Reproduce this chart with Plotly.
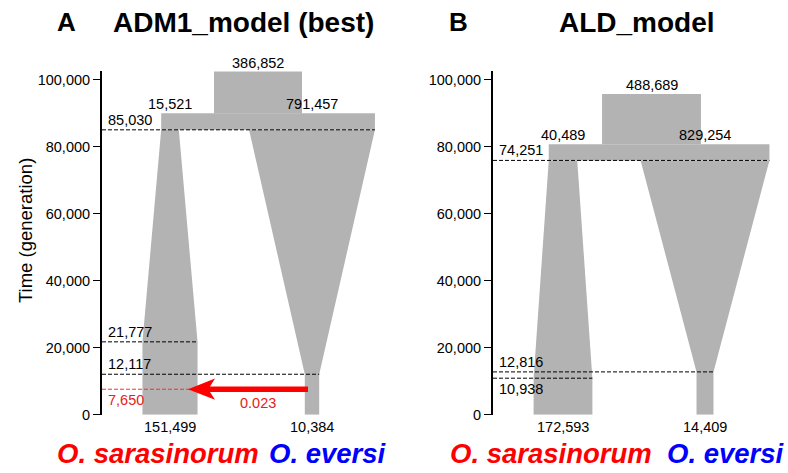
import numpy as np
import plotly.graph_objects as go

# ---------------- data ----------------
panel_letters = ["A", "B"]
panel_titles = ["ADM1_model (best)", "ALD_model"]
species_left = "O. sarasinorum"
species_right = "O. eversi"

ne_ancestral = [386852, 488689]        # ancestral population size
ne_left_split = [15521, 40489]         # O. sarasinorum size at split
ne_right_split = [791457, 829254]      # O. eversi size at split
ne_left_present = [151499, 172593]     # O. sarasinorum present size
ne_right_present = [10384, 14409]      # O. eversi present size

t_split = [85030, 75900]               # split time as drawn
t_split_text = ["85,030", "74,251"]    # split time as printed
t_left_change = [21777, 10938]         # end of size change, O. sarasinorum
t_right_change = [12117, 12816]        # end of size change, O. eversi
t_bar_top = [89940, 80730]             # top of the joining bar (schematic)
t_anc_top = [102400, 95700]            # top of the ancestral box (schematic)
admix_time = [7650, None]
admix_rate = [0.023, None]

y_ticks = [0, 20000, 40000, 60000, 80000, 100000]

# ---------------- layout constants ----------------
W, H = 788, 473
GRAY = "#b3b3b3"
RED = "#ff0000"
BLUE = "#0000ff"
FONT = "Liberation Sans, Arial, Helvetica, sans-serif"
K = 0.1415                      # px of width per sqrt(Ne)
axis_px = [102, 493]            # x pixel of y axis line per panel
axis_w = [288, 295]             # width of each panel in px
centers = [[68, 156, 210], [70, 158.5, 212]]   # left, ancestor, right centers (px from axis)
Y0_PX, YTOP_PX = 422, 72.2
PX_PER_GEN = 3.41 / 1000
Y_MAX = (Y0_PX - YTOP_PX) / PX_PER_GEN


def wid(n):
    return K * np.sqrt(n)


fig = go.Figure()
annotations = []

for p in range(2):
    xa = "x" if p == 0 else "x2"
    ya = "y" if p == 0 else "y2"
    cl, ca, cr = centers[p]
    wls, wlp = wid(ne_left_split[p]), wid(ne_left_present[p])
    wrs, wrp = wid(ne_right_split[p]), wid(ne_right_present[p])
    wa = wid(ne_ancestral[p])
    ts = t_split[p]

    def poly(xs, ys):
        fig.add_trace(go.Scatter(x=xs, y=ys, xaxis=xa, yaxis=ya, mode="lines",
                                 fill="toself", fillcolor=GRAY,
                                 line=dict(width=0, color=GRAY),
                                 hoverinfo="skip", showlegend=False))

    # ancestral box
    poly([ca - wa / 2, ca + wa / 2, ca + wa / 2, ca - wa / 2],
         [t_bar_top[p] - 10, t_bar_top[p] - 10, t_anc_top[p], t_anc_top[p]])
    # joining bar
    poly([cl - wls / 2, cr + wrs / 2, cr + wrs / 2, cl - wls / 2],
         [ts, ts, t_bar_top[p], t_bar_top[p]])
    # left population
    tl = t_left_change[p]
    poly([cl - wlp / 2, cl + wlp / 2, cl + wlp / 2, cl + wls / 2, cl - wls / 2, cl - wlp / 2],
         [0, 0, tl, ts, ts, tl])
    # right population
    tr = t_right_change[p]
    poly([cr - wrp / 2, cr + wrp / 2, cr + wrp / 2, cr + wrs / 2, cr - wrs / 2, cr - wrp / 2],
         [0, 0, tr, ts, ts, tr])

    def dline(x1, y, color="black"):
        fig.add_trace(go.Scatter(x=[0, x1], y=[y, y], xaxis=xa, yaxis=ya, mode="lines",
                                 line=dict(color=color, width=1, dash="4px,2px"),
                                 hoverinfo="skip", showlegend=False))

    def txt(x, y, s, xanchor="center", yanchor="bottom", yshift=0, color="black", size=14.5):
        annotations.append(dict(x=x, y=y, xref=xa, yref=ya, text=s, showarrow=False,
                                xanchor=xanchor, yanchor=yanchor, yshift=yshift,
                                font=dict(family=FONT, size=size, color=color)))

    # dashed time lines
    dline(cr + wrs / 2, ts)
    txt(4, ts, t_split_text[p], xanchor="left", yshift=0)
    dline(cl + wlp / 2, tl)
    dline(cr + wrp / 2, tr)
    if tl > tr:
        txt(4, tl, f"{tl:,}", xanchor="left")
        txt(4, tr, f"{tr:,}", xanchor="left")
    else:
        txt(4, tr, f"{tr:,}", xanchor="left")
        txt(4, tl, f"{tl:,}", xanchor="left", yanchor="top", yshift=-1)

    # size labels
    txt(cl, t_bar_top[p], f"{ne_left_split[p]:,}", yshift=-1)
    txt(cr, t_bar_top[p], f"{ne_right_split[p]:,}", yshift=-1)
    txt(ca, t_anc_top[p], f"{ne_ancestral[p]:,}", yshift=-1)
    txt(cl, 0, f"{ne_left_present[p]:,}", yanchor="top", yshift=-2)
    txt(cr, 0, f"{ne_right_present[p]:,}", yanchor="top", yshift=-2)

    # admixture arrow
    if admix_time[p] is not None:
        ty = admix_time[p]
        tip = cl + 18
        start = cr - 4
        g = 1 / PX_PER_GEN
        hx = [tip, tip + 27, tip + 22, start, start, tip + 22, tip + 27, tip]
        hy = [ty, ty + 10.8 * g, ty + 2.85 * g, ty + 2.85 * g, ty - 2.85 * g,
              ty - 2.85 * g, ty - 10.8 * g, ty]
        dline(tip + 2, ty, color="#ee3333")
        fig.add_trace(go.Scatter(x=hx, y=hy, xaxis=xa, yaxis=ya, mode="lines",
                                 fill="toself", fillcolor=RED, line=dict(width=0, color=RED),
                                 hoverinfo="skip", showlegend=False))
        txt(4, ty, f"{ty:,}", xanchor="left", yanchor="top", yshift=-1, color="#e82020")
        txt((tip + start) / 2 + 10, ty, f"{admix_rate[p]}", yanchor="top", yshift=-4,
            color="#e82020")


def ptxt(xpx, ypx, s, size, color="black", angle=0):
    annotations.append(dict(x=xpx / W, y=1 - ypx / H, xref="paper", yref="paper", text=s,
                            showarrow=False, xanchor="center", yanchor="middle",
                            textangle=angle, font=dict(family=FONT, size=size, color=color)))


ptxt(66.5, 22.5, f"<b>{panel_letters[0]}</b>", 26)
ptxt(243.3, 22.5, f"<b>{panel_titles[0]}</b>", 28)
ptxt(458, 22.5, f"<b>{panel_letters[1]}</b>", 26)
ptxt(636.7, 22.5, f"<b>{panel_titles[1]}</b>", 28)
ptxt(157.5, 461, f"<b><i>{species_left}</i></b>", 27.5, RED)
ptxt(328, 461, f"<b><i>{species_right}</i></b>", 27.5, BLUE)
ptxt(551.3, 461, f"<b><i>{species_left}</i></b>", 27.5, RED)
ptxt(726, 461, f"<b><i>{species_right}</i></b>", 27.5, BLUE)
ptxt(25, 235, "Time (generation)", 18.5, angle=-90)

ydom = [(H - Y0_PX) / H, (H - YTOP_PX) / H]
yax = dict(range=[0, Y_MAX], domain=ydom, showline=True, linewidth=2, linecolor="black",
           ticks="outside", ticklen=7, tickwidth=1.3, tickcolor="black",
           tickvals=y_ticks, ticktext=[f"{v:,}" for v in y_ticks],
           tickfont=dict(family=FONT, size=14.5, color="black"),
           showgrid=False, zeroline=False, fixedrange=True)

fig.update_layout(
    width=W, height=H, margin=dict(l=0, r=0, t=0, b=0),
    paper_bgcolor="white", plot_bgcolor="white",
    xaxis=dict(domain=[axis_px[0] / W, (axis_px[0] + axis_w[0]) / W], range=[0, axis_w[0]],
               visible=False, fixedrange=True),
    xaxis2=dict(domain=[axis_px[1] / W, min(1, (axis_px[1] + axis_w[1]) / W)],
                range=[0, axis_w[1]], visible=False, fixedrange=True),
    yaxis=dict(anchor="x", **yax),
    yaxis2=dict(anchor="x2", **yax),
    annotations=annotations,
    showlegend=False,
)

css_fix = (
    "var s=document.createElement('style');"
    "s.innerHTML='html,body{margin:0;padding:0;overflow:hidden;width:788px;height:473px;}"
    " body>div{width:788px;height:473px;overflow:hidden;line-height:0;font-size:0;}"
    " .plotly-graph-div{overflow:hidden;}';"
    "document.head.appendChild(s);"
)

fig.write_html("out.html", config={"displayModeBar": False, "responsive": False},
               post_script=css_fix)
